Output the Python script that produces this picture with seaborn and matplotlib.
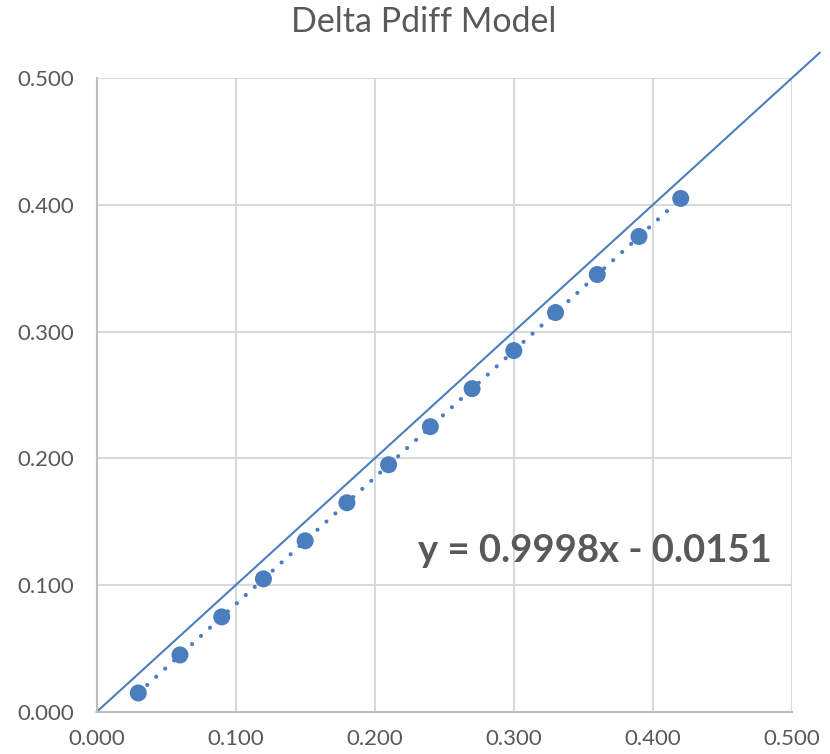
import matplotlib
matplotlib.use("Agg")
import matplotlib.pyplot as plt
import seaborn as sns
import numpy as np
import pandas as pd

x_vals = [0.03, 0.06, 0.09, 0.12, 0.15, 0.18, 0.21, 0.24, 0.27, 0.30, 0.33, 0.36, 0.39, 0.42]
y_vals = [0.015, 0.045, 0.075, 0.105, 0.135, 0.165, 0.195, 0.225, 0.255, 0.285, 0.315, 0.345, 0.375, 0.405]
slope = 0.9998
intercept = -0.0151
ticks = [0.0, 0.1, 0.2, 0.3, 0.4, 0.5]
tick_labels = ["0.000", "0.100", "0.200", "0.300", "0.400", "0.500"]
diag = [0.0, 0.52]

sns.set_theme(style="white")
plt.rcParams['font.family'] = ['Lato', 'DejaVu Sans']

blue = "#4A7EBF"
gray_text = "#595959"

fig = plt.figure(figsize=(8.3, 7.54), dpi=100)
ax = fig.add_axes([0.1163, 0.0557, 0.9542 - 0.1163, 0.8966 - 0.0557])

df = pd.DataFrame({"x": x_vals, "y": y_vals})

# diagonal reference line
ax.plot(diag, diag, color=blue, lw=1.5, clip_on=False, zorder=2)

# dotted trendline
tx = np.array([min(x_vals), max(x_vals)])
ax.plot(tx, slope * tx + intercept, color=blue, lw=3.0,
        linestyle=(0, (0.01, 2.9)), dash_capstyle="round", zorder=3)

sns.scatterplot(data=df, x="x", y="y", ax=ax, color=blue, s=150,
                edgecolor="none", zorder=4, legend=False)

ax.set_xlim(0, 0.5)
ax.set_ylim(0, 0.5)
ax.set_xticks(ticks)
ax.set_xticklabels(tick_labels)
ax.set_yticks(ticks)
ax.set_yticklabels(tick_labels)
ax.set_xlabel("")
ax.set_ylabel("")
ax.grid(True, color="#D9D9D9", lw=1.5)
ax.set_axisbelow(True)
for side in ["top", "right"]:
    ax.spines[side].set_visible(False)
for side in ["left", "bottom"]:
    ax.spines[side].set_color("#BFBFBF")
    ax.spines[side].set_linewidth(1.5)
ax.tick_params(axis="y", length=0, labelsize=16, colors=gray_text, pad=16)
ax.tick_params(axis="x", length=0, labelsize=16, colors=gray_text, pad=12)

fig.text(0.511, 0.971, "Delta Pdiff Model", fontsize=24.5, color=gray_text,
         ha="center", va="center")

ax.text(0.231, 0.127, "y = 0.9998x - 0.0151", fontsize=27.5, fontweight="bold",
        color=gray_text, va="center", ha="left")

fig.savefig("out.png", dpi=100)
